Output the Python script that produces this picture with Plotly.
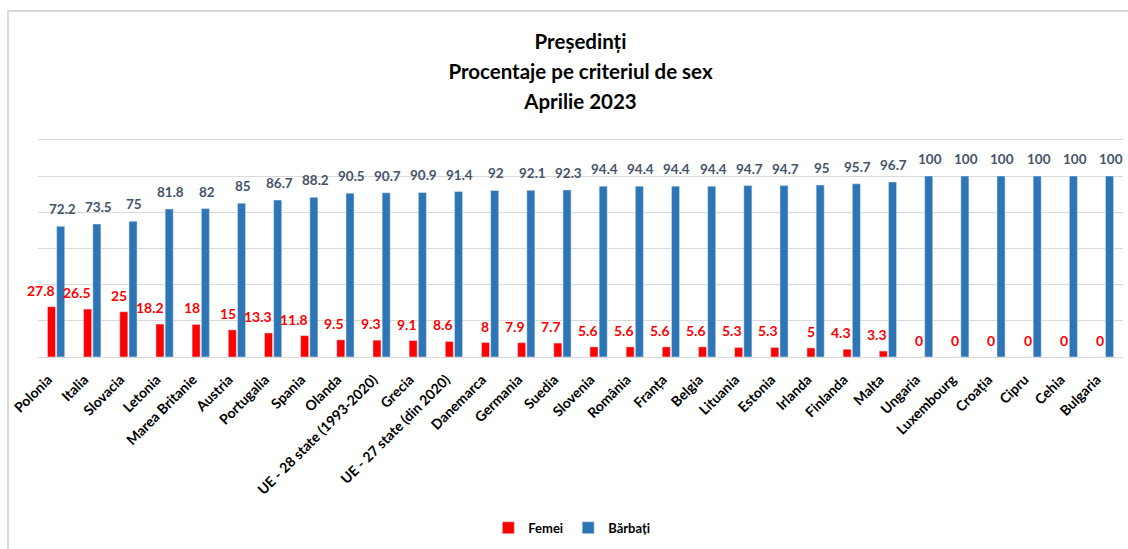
import plotly.graph_objects as go

categories = ["Polonia", "Italia", "Slovacia", "Letonia", "Marea Britanie", "Austria",
              "Portugalia", "Spania", "Olanda", "UE - 28 state (1993-2020)", "Grecia",
              "UE - 27 state (din 2020)", "Danemarca", "Germania", "Suedia", "Slovenia",
              "România", "Franța", "Belgia", "Lituania", "Estonia", "Irlanda", "Finlanda",
              "Malta", "Ungaria", "Luxembourg", "Croația", "Cipru", "Cehia", "Bulgaria"]
femei = [27.8, 26.5, 25, 18.2, 18, 15, 13.3, 11.8, 9.5, 9.3, 9.1, 8.6, 8, 7.9, 7.7, 5.6,
         5.6, 5.6, 5.6, 5.3, 5.3, 5, 4.3, 3.3, 0, 0, 0, 0, 0, 0]
barbati = [72.2, 73.5, 75, 81.8, 82, 85, 86.7, 88.2, 90.5, 90.7, 90.9, 91.4, 92, 92.1,
           92.3, 94.4, 94.4, 94.4, 94.4, 94.7, 94.7, 95, 95.7, 96.7, 100, 100, 100, 100,
           100, 100]
title_lines = ["Președinți", "Procentaje pe criteriul de sex", "Aprilie 2023"]

RED = "#FF0000"
BLUE = "#2E75B6"
LABEL_DARK = "#44546A"
FONT = "Lato"

fig = go.Figure()
fig.add_trace(go.Bar(name="Femei", x=categories, y=femei, marker_color=RED))
fig.add_trace(go.Bar(name="Bărbați", x=categories, y=barbati, marker_color=BLUE))

annotations = []
for c, v in zip(categories, femei):
    annotations.append(dict(x=c, y=v, xref="x", yref="y", text=f"{v:g}", showarrow=False,
                            xanchor="right", yanchor="bottom", xshift=1, yshift=6,
                            font=dict(family=FONT, size=14, color=RED, weight="bold")))
for c, v in zip(categories, barbati):
    annotations.append(dict(x=c, y=v, xref="x", yref="y", text=f"{v:g}", showarrow=False,
                            xanchor="center", yanchor="bottom", xshift=6, yshift=7,
                            font=dict(family=FONT, size=13.5, color=LABEL_DARK, weight="bold")))

title_text = "<br>".join(f"<span style='font-size:20.5px'>{t}</span>" for t in title_lines)

fig.update_layout(
    width=1128, height=549,
    margin=dict(l=38, r=5, t=138, b=192, autoexpand=False),
    paper_bgcolor="white", plot_bgcolor="white",
    barmode="group", bargap=0.49, bargroupgap=0.125,
    title=dict(text=title_text,
               x=0.5, xref="paper", xanchor="center",
               y=0.911, yref="container", yanchor="middle",
               font=dict(family=FONT, size=23, color="black", weight="bold")),
    font=dict(family=FONT, color="black"),
    legend=dict(orientation="h", x=0.492, xanchor="center", y=-0.78, yanchor="middle",
                font=dict(family=FONT, size=13, color="black", weight="bold"),
                itemwidth=30, traceorder="normal"),
    annotations=annotations,
    shapes=[dict(type="rect", xref="paper", yref="paper", x0=-0.0276, x1=1.02,
                 y0=-1.0, y1=1.58, line=dict(color="#D9D9D9", width=2), layer="below")],
)
fig.update_xaxes(tickangle=-45, tickfont=dict(family=FONT, size=14, color="black", weight="bold"),
                 showline=True, linecolor="#D9D9D9", linewidth=1, ticks="", showgrid=False,
                 automargin=False, ticklabelshift=-8, ticklabelstandoff=8,
                 range=[-0.5, len(categories) - 0.5])
fig.update_yaxes(range=[0, 121], tickvals=[0, 20, 40, 60, 80, 100, 120], showticklabels=False,
                 gridcolor="#D9D9D9", gridwidth=1, zeroline=False, showline=False,
                 automargin=False)

fig.write_html("out.html", post_script="document.body.style.margin='0';",
               config={"displayModeBar": False})
